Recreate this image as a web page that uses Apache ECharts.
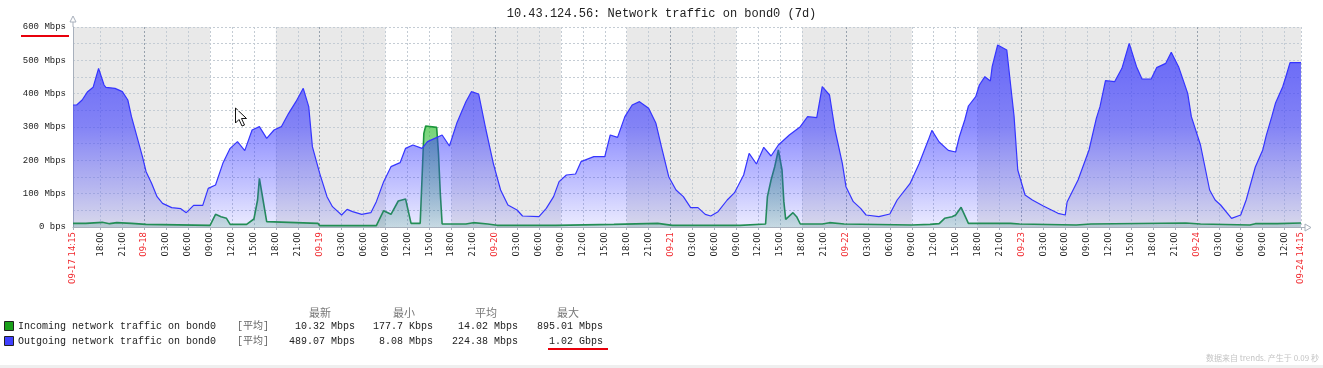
<!DOCTYPE html>
<html>
<head>
<meta charset="utf-8">
<script src="https://cdn.jsdelivr.net/npm/echarts@6/dist/echarts.min.js"></script>
<style>
html,body{margin:0;padding:0;background:#fff;}
#chart{width:1323px;height:368px;}
</style>
</head>
<body>
<div id="chart"></div>
<script>
// ---------- DATA ----------
const titleText = '10.43.124.56: Network traffic on bond0 (7d)';
const seriesNames = ['Incoming network traffic on bond0', 'Outgoing network traffic on bond0'];
const seriesColors = ['#1aa01a', '#4040ff'];
const statHeaders = ['最新', '最小', '平均', '最大'];
const statIncoming = ['10.32 Mbps', '177.7 Kbps', '14.02 Mbps', '895.01 Mbps'];
const statOutgoing = ['489.07 Mbps', '8.08 Mbps', '224.38 Mbps', '1.02 Gbps'];
const footerText = '数据来自 trends. 产生于 0.09 秒';

// 15-minute time categories, 09-17 14:15 .. 09-24 14:15
const categories = (function () {
  const pad = n => (n < 10 ? '0' : '') + n;
  const start = Date.UTC(2017, 8, 17, 14, 15);
  const out = [];
  for (let i = 0; i <= 672; i++) {
    const d = new Date(start + i * 15 * 60000);
    out.push(pad(d.getUTCMonth() + 1) + '-' + pad(d.getUTCDate()) + ' ' + pad(d.getUTCHours()) + ':' + pad(d.getUTCMinutes()));
  }
  return out;
})();

// non-working hours (grey bands)
const offHours = [
  ['09-17 14:15', '09-18 09:00'],
  ['09-18 18:00', '09-19 09:00'],
  ['09-19 18:00', '09-20 09:00'],
  ['09-20 18:00', '09-21 09:00'],
  ['09-21 18:00', '09-22 09:00'],
  ['09-22 18:00', '09-24 14:15']
];

// Outgoing (Mbps)
const outTimes = [
 '09-17 14:15','09-17 14:45','09-17 15:30','09-17 16:15','09-17 17:00','09-17 17:45','09-17 18:30','09-17 18:45','09-17 20:00','09-17 21:00','09-17 21:45','09-17 22:15','09-17 23:00','09-17 23:45',
 '09-18 00:15','09-18 01:00','09-18 01:45','09-18 02:30','09-18 03:45','09-18 05:00','09-18 05:45','09-18 06:45','09-18 08:00','09-18 08:45','09-18 09:45','09-18 10:45','09-18 11:45','09-18 12:45','09-18 13:45','09-18 14:45','09-18 15:45','09-18 16:45','09-18 17:45','09-18 18:45','09-18 19:45','09-18 20:45','09-18 21:45','09-18 22:30','09-18 23:00',
 '09-19 00:00','09-19 01:00','09-19 01:45','09-19 03:00','09-19 03:45','09-19 04:30','09-19 05:45','09-19 07:00','09-19 07:45','09-19 08:45','09-19 09:45','09-19 11:00','09-19 11:45','09-19 12:45','09-19 14:00','09-19 14:45','09-19 15:45','09-19 16:45','09-19 17:45','09-19 18:45','09-19 20:00','09-19 20:45','09-19 21:45','09-19 22:45','09-19 23:45',
 '09-20 00:45','09-20 01:45','09-20 03:00','09-20 03:45','09-20 06:00','09-20 07:00','09-20 08:00','09-20 08:45','09-20 09:45','09-20 11:00','09-20 11:45','09-20 13:30','09-20 15:00','09-20 15:45','09-20 16:45','09-20 17:45','09-20 18:45','09-20 19:45','09-20 21:00','09-20 22:00','09-20 22:45','09-20 23:45',
 '09-21 00:45','09-21 01:45','09-21 02:45','09-21 03:45','09-21 04:45','09-21 05:30','09-21 06:30','09-21 07:45','09-21 08:45','09-21 10:00','09-21 10:45','09-21 11:45','09-21 12:45','09-21 13:45','09-21 14:45','09-21 16:15','09-21 17:45','09-21 18:45','09-21 20:00','09-21 20:45','09-21 21:45','09-21 22:30','09-21 23:30',
 '09-22 00:00','09-22 01:00','09-22 02:00','09-22 02:45','09-22 04:30','09-22 06:00','09-22 07:00','09-22 08:45','09-22 10:00','09-22 11:15','09-22 11:45','09-22 12:45','09-22 14:00','09-22 15:00','09-22 15:30','09-22 16:15','09-22 16:45','09-22 17:45','09-22 18:15','09-22 19:00','09-22 19:45','09-22 20:00','09-22 20:45','09-22 21:00','09-22 22:00','09-22 22:45','09-22 23:00','09-22 23:30',
 '09-23 00:30','09-23 01:30','09-23 03:00','09-23 05:00','09-23 06:00','09-23 06:15','09-23 07:45','09-23 09:15','09-23 10:15','09-23 10:45','09-23 11:30','09-23 12:45','09-23 13:45','09-23 14:45','09-23 15:45','09-23 16:30','09-23 17:45','09-23 18:30','09-23 19:45','09-23 20:30','09-23 21:30','09-23 22:45','09-23 23:15',
 '09-24 00:30','09-24 01:45','09-24 02:30','09-24 03:15','09-24 04:45','09-24 06:00','09-24 06:45','09-24 08:00','09-24 09:00','09-24 09:30','09-24 10:15','09-24 10:45','09-24 11:45','09-24 12:15','09-24 12:45','09-24 14:15'
];
const outValues = [
 366,366,381,406,419,476,426,419,416,406,381,331,271,211,
 166,131,91,71,58,55,43,65,65,116,126,191,236,256,229,291,301,266,291,301,341,376,416,361,241,
 161,91,61,36,53,46,38,43,76,136,181,193,236,246,236,256,266,276,243,311,376,406,399,291,191,
 111,66,51,33,31,56,91,136,156,159,196,211,211,276,269,331,366,376,356,311,241,151,
 111,91,58,58,38,33,46,81,103,156,221,189,239,213,246,276,301,331,328,421,396,291,191,
 121,76,56,36,31,39,81,130,190,260,290,255,230,225,270,321,363,391,426,451,438,481,546,541,531,381,331,171,
 96,81,63,41,36,75,141,231,326,361,439,436,476,551,481,444,444,478,491,524,481,401,331,
 246,111,81,66,26,36,81,180,230,275,331,371,421,456,493,493
];

// Incoming (Mbps)
const inTimes = [
 '09-17 14:15','09-17 16:00','09-17 16:15','09-17 18:15','09-17 18:30','09-17 19:15','09-17 19:30','09-17 20:15','09-17 20:30','09-17 22:15','09-17 22:30',
 '09-18 00:15','09-18 00:30','09-18 09:00','09-18 09:45','09-18 10:30','09-18 11:15','09-18 11:45','09-18 14:00','09-18 15:00','09-18 15:30','09-18 15:45','09-18 16:15','09-18 16:45','09-18 17:00','09-18 23:45',
 '09-19 00:00','09-19 07:45','09-19 08:45','09-19 09:45','09-19 10:45','09-19 11:45','09-19 12:30','09-19 13:45','09-19 14:15','09-19 14:30','09-19 16:00','09-19 16:15','09-19 16:30','09-19 16:45','09-19 20:00','09-19 20:15','09-19 21:00','09-19 21:15','09-19 23:00',
 '09-20 00:15','09-20 08:15','09-20 08:30','09-20 16:15','09-20 16:30','09-20 22:15',
 '09-21 00:15','09-21 09:30','09-21 09:45','09-21 13:00','09-21 13:15','09-21 13:45','09-21 14:15','09-21 14:45','09-21 15:15','09-21 15:30','09-21 15:45','09-21 16:45','09-21 17:15','09-21 17:45','09-21 20:45','09-21 21:00','09-21 21:45','09-21 22:00','09-21 23:45',
 '09-22 00:00','09-22 09:00','09-22 09:15','09-22 11:30','09-22 11:45','09-22 12:45','09-22 13:00','09-22 13:30','09-22 14:30','09-22 15:00','09-22 15:45','09-22 16:45','09-22 22:30','09-22 22:45','09-22 23:45',
 '09-23 00:00','09-23 07:30','09-23 07:45','09-23 09:30','09-23 09:45','09-23 22:30','09-23 22:45',
 '09-24 00:30','09-24 00:45','09-24 07:15','09-24 08:00','09-24 11:00','09-24 11:15','09-24 14:15'
];
const inValues = [
 11,11,14,14,10,10,13,13,11,11,8,
 8,5,5,38,31,26,8,8,24,81,146,81,16,11,11,
 4,4,49,38,78,84,11,11,281,303,299,221,101,9,9,13,13,9,9,
 5,5,8,8,11,11,
 5,5,8,9,91,141,181,231,171,76,23,43,31,9,9,13,13,9,9,
 6,6,8,8,10,10,7,26,31,36,59,11,11,9,9,
 6,6,9,9,12,12,9,
 9,6,6,10,10,12,12
];

// ---------- CHART ----------
const idxOf = t => categories.indexOf(t);
const outData = outTimes.map((t, i) => [idxOf(t), outValues[i]]);
const inData = inTimes.map((t, i) => [idxOf(t), inValues[i]]);
const LAST = categories.length - 1;

const tickShow = idx => idx === 0 || idx === LAST || (idx % 12 === 3 && idx > 3);
const gridLight = '#c4ccd4';
const gridDark = '#98a2ad';

const chart = echarts.init(document.getElementById('chart'), null, { renderer: 'canvas' });

const mono = 'Liberation Mono, DejaVu Sans Mono, monospace';

const graphics = [];
// axis arrows
graphics.push({ type: 'line', shape: { x1: 73, y1: 27, x2: 73, y2: 21 }, style: { stroke: '#a8b0bc', lineWidth: 1 }, silent: true });
graphics.push({ type: 'polygon', shape: { points: [[70, 22], [76, 22], [73, 16]] }, style: { fill: '#fff', stroke: '#a8b0bc', lineWidth: 1 }, silent: true });
graphics.push({ type: 'line', shape: { x1: 1301, y1: 227.5, x2: 1306, y2: 227.5 }, style: { stroke: '#a8b0bc', lineWidth: 1 }, silent: true });
graphics.push({ type: 'polygon', shape: { points: [[1305, 224], [1305, 231], [1311, 227.5]] }, style: { fill: '#fff', stroke: '#a8b0bc', lineWidth: 1 }, silent: true });
// red underline near y-axis top label
graphics.push({ type: 'rect', shape: { x: 21, y: 35, width: 48, height: 2 }, style: { fill: '#e8000b' }, silent: true });
// mouse cursor
graphics.push({ type: 'polygon', shape: { points: [[235.5, 108], [235.5, 123], [239, 119.5], [242, 126], [244.5, 125], [241.5, 118.5], [246.5, 118.5]] }, style: { fill: '#fff', stroke: '#111', lineWidth: 1 }, silent: true });

// legend / stats
const rowY = [326, 341];
const colRight = [355, 433, 518, 603];
const headCenter = [320, 404, 486, 568];
statHeaders.forEach((h, i) => {
  graphics.push({ type: 'text', x: headCenter[i], y: 313, style: { text: h, fill: '#777', font: '11px "Noto Sans CJK SC"', textAlign: 'center', textVerticalAlign: 'middle' }, silent: true });
});
[statIncoming, statOutgoing].forEach((row, r) => {
  graphics.push({ type: 'rect', shape: { x: 4.5, y: rowY[r] - 4.5, width: 9, height: 9 }, style: { fill: seriesColors[r], stroke: '#222', lineWidth: 1 }, silent: true });
  graphics.push({ type: 'text', x: 18, y: rowY[r], style: { text: seriesNames[r], fill: '#222', font: '10px ' + mono, textVerticalAlign: 'middle' }, silent: true });
  graphics.push({ type: 'text', x: 237, y: rowY[r], style: { text: '[平均]', fill: '#666', font: '10px ' + mono + ', "Noto Sans CJK SC"', textVerticalAlign: 'middle' }, silent: true });
  row.forEach((v, i) => {
    graphics.push({ type: 'text', x: colRight[i], y: rowY[r], style: { text: v, fill: '#222', font: '10px ' + mono, textAlign: 'right', textVerticalAlign: 'middle' }, silent: true });
  });
});
graphics.push({ type: 'rect', shape: { x: 548, y: 348, width: 60, height: 2 }, style: { fill: '#e8000b' }, silent: true });
graphics.push({ type: 'text', x: 1319, y: 358, style: { text: footerText, fill: '#c4c4c4', font: '8px "Noto Sans CJK SC"', textAlign: 'right', textVerticalAlign: 'middle' }, silent: true });
graphics.push({ type: 'rect', shape: { x: 0, y: 365, width: 1323, height: 3 }, style: { fill: '#efefef' }, silent: true });

const option = {
  animation: false,
  backgroundColor: '#fff',
  title: {
    text: titleText, left: 'center', top: 3,
    textStyle: { fontFamily: mono, fontSize: 12, fontWeight: 'normal', color: '#222' }
  },
  grid: { left: 73, right: 22, top: 27, bottom: 141, containLabel: false },
  xAxis: {
    type: 'category', data: categories, boundaryGap: false, z: 1,
    axisLine: { show: true, lineStyle: { color: '#a8b0bc', width: 1 } },
    axisTick: { show: true, length: 3, interval: tickShow, lineStyle: { color: '#a8b0bc' } },
    splitLine: {
      show: true, interval: tickShow,
      lineStyle: { type: [2, 2], width: 1, color: [gridLight, gridLight, gridLight, gridDark, gridLight, gridLight, gridLight, gridLight] }
    },
    axisLabel: {
      interval: tickShow, rotate: 90, margin: 5,
      formatter: function (v, idx) {
        if (idx === 0 || idx === LAST) return '{r|' + v + '}';
        const hm = v.slice(6);
        if (hm === '00:00') return '{r|' + v.slice(0, 5) + '}';
        return '{k|' + hm + '}';
      },
      rich: {
        r: { color: '#f0262b', fontSize: 8.5, fontFamily: 'DejaVu Sans' },
        k: { color: '#222', fontSize: 8.5, fontFamily: 'DejaVu Sans' }
      }
    }
  },
  yAxis: {
    type: 'value', min: 0, max: 600, interval: 50, z: 1,
    axisLine: { show: true, lineStyle: { color: '#a8b0bc', width: 1 } },
    axisTick: { show: false },
    splitLine: { show: true, lineStyle: { type: [2, 2], color: gridLight, width: 1 } },
    axisLabel: {
      margin: 7, color: '#222', fontFamily: mono, fontSize: 9,
      formatter: v => (v === 0 ? '0 bps' : (v % 100 === 0 ? v + ' Mbps' : ''))
    }
  },
  series: [
    {
      name: 'bands', type: 'line', data: [], z: 0, silent: true,
      markArea: {
        silent: true, z: 0,
        itemStyle: { color: '#e9e9e9' },
        data: offHours.map(b => [{ xAxis: b[0] }, { xAxis: b[1] }])
      }
    },
    {
      name: seriesNames[0], type: 'line', data: inData, symbol: 'none', z: 2,
      lineStyle: { color: '#1c963c', width: 1.6 },
      areaStyle: {
        color: new echarts.graphic.LinearGradient(0, 0, 0, 1, [
          { offset: 0, color: 'rgba(40,190,40,0.92)' },
          { offset: 1, color: 'rgba(40,150,90,0.28)' }
        ])
      }
    },
    {
      name: seriesNames[1], type: 'line', data: outData, symbol: 'none', z: 3,
      lineStyle: { color: '#3535ff', width: 1.2 },
      areaStyle: {
        color: new echarts.graphic.LinearGradient(0, 0, 0, 1, [
          { offset: 0, color: 'rgba(45,45,255,1)' },
          { offset: 0.45, color: 'rgba(55,55,255,0.82)' },
          { offset: 0.78, color: 'rgba(70,70,255,0.45)' },
          { offset: 1, color: 'rgba(80,80,255,0.16)' }
        ])
      }
    }
  ],
  graphic: graphics
};
chart.setOption(option);
</script>
</body>
</html>
